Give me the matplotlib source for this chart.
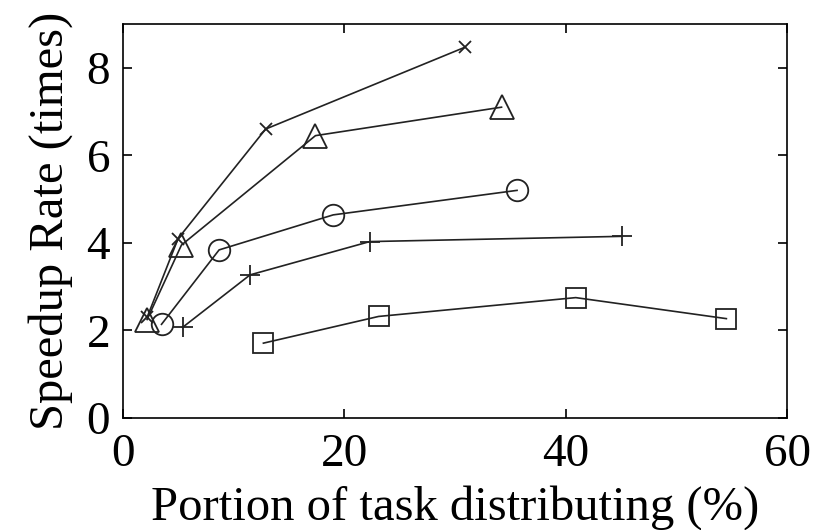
import matplotlib
matplotlib.use('Agg')
import matplotlib.pyplot as plt

plt.rcParams['font.family'] = ['Liberation Serif', 'DejaVu Serif']
plt.rcParams['xtick.direction'] = 'in'
plt.rcParams['ytick.direction'] = 'in'
plt.rcParams['xtick.major.size'] = 6.5
plt.rcParams['ytick.major.size'] = 6.5
plt.rcParams['xtick.major.width'] = 1.2
plt.rcParams['ytick.major.width'] = 1.2
plt.rcParams['axes.linewidth'] = 1.2

# data
x_cross = [2.2, 5.0, 12.9, 30.9]
y_cross = [2.3, 4.1, 6.6, 8.47]

x_tri = [2.2, 5.3, 17.4, 34.2]
y_tri = [2.25, 3.95, 6.45, 7.1]

x_circ = [3.5, 8.7, 19.0, 35.6]
y_circ = [2.14, 3.84, 4.64, 5.2]

x_plus = [5.4, 11.5, 22.3, 45.1]
y_plus = [2.07, 3.27, 4.03, 4.15]

x_sq = [12.7, 23.1, 40.9, 54.5]
y_sq = [1.71, 2.32, 2.75, 2.27]

fig = plt.figure(figsize=(8.15, 5.3), dpi=100)
ax = fig.add_axes([0.1506, 0.2113, 0.8154, 0.7434])

line_style = {'color': '#222222', 'linewidth': 1.2, 'markeredgewidth': 1.3,
              'fillstyle': 'none', 'markeredgecolor': '#222222'}

ax.plot(x_cross, y_cross, marker='x', markersize=8.5, **line_style)
ax.plot(x_tri, y_tri, marker='^', markersize=17, **line_style)
ax.plot(x_circ, y_circ, marker='o', markersize=15.5, **line_style)
ax.plot(x_plus, y_plus, marker='+', markersize=15, **line_style)
ax.plot(x_sq, y_sq, marker='s', markersize=15, **line_style)

ax.set_xlim(0, 60)
ax.set_ylim(0, 9)
ax.set_xticks([0, 20, 40, 60])
ax.set_yticks([0, 2, 4, 6, 8])
ax.tick_params(top=True, right=True, labelsize=34)
ax.tick_params(axis='x', pad=11)
ax.tick_params(axis='y', pad=9)

ax.set_xlabel('Portion of task distributing (%)', fontsize=35, labelpad=7)
ax.set_ylabel('Speedup Rate (times)', fontsize=35, labelpad=10)

fig.savefig('out.png', dpi=100)
